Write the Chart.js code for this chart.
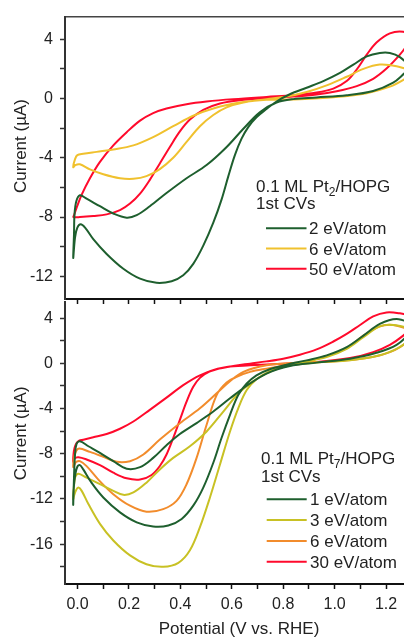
<!DOCTYPE html>
<html>
<head>
<meta charset="utf-8">
<script src="https://cdn.jsdelivr.net/npm/chart.js@4.4.1/dist/chart.umd.min.js"></script>
<style>
  html, body { margin: 0; padding: 0; background: #fff; overflow: hidden; width: 404px; height: 638px; }
  #wrap { position: relative; width: 404px; height: 638px; overflow: hidden; }
  canvas { position: absolute; left: 0; }
  #cvTop { top: 0; z-index: 2; }
  #cvBot { top: 285px; z-index: 1; }
</style>
</head>
<body>
<div id="wrap">
  <canvas id="cvBot" width="413" height="355"></canvas>
  <canvas id="cvTop" width="413" height="330"></canvas>
</div>
<script>
'use strict';

/* ── data: [potential (V vs RHE), current (µA)] ── */

// top panel: 0.1 ML Pt2/HOPG
const pt2_2eV = [[1.30,2.07],[1.254,2.80],[1.215,3.07],[1.176,3.07],[1.125,2.84],[1.073,2.29],[1.021,1.73],[0.956,1.18],[0.891,0.73],[0.826,0.29],[0.774,-0.20],[0.735,-0.71],[0.696,-1.27],[0.664,-1.93],[0.638,-2.71],[0.612,-3.82],[0.586,-5.27],[0.560,-6.82],[0.528,-8.38],[0.489,-9.93],[0.450,-11.16],[0.411,-11.93],[0.366,-12.33],[0.307,-12.44],[0.243,-12.16],[0.178,-11.49],[0.113,-10.49],[0.061,-9.49],[0.029,-8.71],[0.012,-8.49],[-0.001,-8.71],[-0.010,-9.38],[-0.017,-10.76],[-0.014,-9.16],[-0.012,-7.82],[-0.005,-6.93],[0.009,-6.53],[0.035,-6.76],[0.087,-7.27],[0.139,-7.76],[0.191,-8.04],[0.230,-7.87],[0.281,-7.27],[0.346,-6.38],[0.424,-5.38],[0.502,-4.49],[0.580,-3.27],[0.645,-2.04],[0.709,-0.93],[0.774,-0.27],[0.839,-0.04],[0.930,0.07],[1.047,0.22],[1.150,0.51],[1.228,1.07],[1.274,1.73],[1.30,2.07]];
const pt2_6eV = [[1.306,1.84],[1.241,2.18],[1.176,2.29],[1.112,2.00],[1.047,1.47],[0.969,0.89],[0.891,0.44],[0.813,0.13],[0.735,-0.04],[0.632,-0.27],[0.528,-0.67],[0.450,-1.16],[0.372,-1.87],[0.294,-2.60],[0.217,-3.16],[0.139,-3.44],[0.074,-3.60],[0.022,-3.73],[-0.001,-3.82],[-0.010,-4.09],[-0.017,-4.64],[-0.009,-4.49],[0.009,-4.44],[0.048,-4.78],[0.100,-5.11],[0.165,-5.38],[0.217,-5.42],[0.268,-5.24],[0.320,-4.76],[0.372,-4.00],[0.424,-2.93],[0.476,-1.87],[0.528,-1.11],[0.580,-0.60],[0.645,-0.27],[0.735,-0.09],[0.865,-0.04],[0.995,0.09],[1.125,0.36],[1.215,0.80],[1.274,1.33],[1.306,1.73]];
const pt2_50eV = [[1.306,4.18],[1.267,4.51],[1.215,4.40],[1.163,3.78],[1.125,2.96],[1.086,1.96],[1.047,1.18],[0.995,0.67],[0.930,0.40],[0.839,0.22],[0.735,0.11],[0.606,-0.04],[0.502,-0.20],[0.424,-0.38],[0.346,-0.67],[0.294,-0.98],[0.243,-1.49],[0.191,-2.27],[0.139,-3.16],[0.087,-4.27],[0.048,-5.38],[0.016,-6.49],[-0.004,-7.38],[-0.014,-7.89],[-0.016,-8.00],[0.009,-8.00],[0.061,-7.93],[0.113,-7.82],[0.165,-7.53],[0.204,-7.09],[0.243,-6.42],[0.281,-5.49],[0.320,-4.38],[0.359,-3.27],[0.398,-2.22],[0.437,-1.42],[0.489,-0.76],[0.554,-0.33],[0.632,-0.11],[0.735,0.02],[0.839,0.13],[0.930,0.27],[1.008,0.49],[1.086,0.84],[1.150,1.33],[1.202,2.02],[1.254,2.96],[1.286,3.69],[1.306,4.18]];

// bottom panel: 0.1 ML Pt7/HOPG
const pt7_1eV = [[1.306,3.48],[1.241,3.92],[1.176,3.48],[1.112,2.45],[1.047,1.43],[0.969,0.70],[0.891,0.26],[0.813,-0.12],[0.748,-0.53],[0.696,-1.06],[0.658,-1.79],[0.625,-2.81],[0.593,-4.56],[0.560,-6.61],[0.528,-8.80],[0.489,-11.00],[0.450,-12.60],[0.405,-13.77],[0.353,-14.35],[0.294,-14.44],[0.230,-14.07],[0.165,-13.19],[0.100,-11.87],[0.054,-10.56],[0.022,-9.39],[0.009,-9.01],[-0.001,-9.15],[-0.009,-9.83],[-0.016,-11.29],[-0.017,-12.52],[-0.014,-10.12],[-0.010,-8.07],[-0.004,-7.13],[0.009,-6.90],[0.042,-7.34],[0.087,-7.93],[0.139,-8.66],[0.191,-9.33],[0.243,-9.19],[0.294,-8.37],[0.346,-7.25],[0.398,-6.26],[0.463,-5.29],[0.528,-4.27],[0.593,-3.10],[0.658,-1.99],[0.735,-0.91],[0.826,-0.24],[0.930,0.06],[1.060,0.41],[1.163,0.93],[1.241,1.63],[1.293,2.74],[1.306,3.48]];
const pt7_3eV = [[1.306,3.04],[1.228,3.39],[1.176,3.27],[1.112,2.31],[1.047,1.28],[0.969,0.55],[0.891,0.17],[0.813,-0.18],[0.748,-0.70],[0.696,-1.41],[0.658,-2.37],[0.625,-3.98],[0.593,-6.03],[0.554,-8.95],[0.515,-11.87],[0.476,-14.50],[0.437,-16.55],[0.392,-17.66],[0.333,-18.01],[0.268,-17.78],[0.204,-17.00],[0.139,-15.68],[0.087,-14.21],[0.042,-12.46],[0.016,-11.29],[0.003,-11.00],[-0.006,-11.23],[-0.014,-11.73],[-0.017,-12.02],[-0.014,-10.85],[-0.009,-10.06],[0.003,-9.77],[0.035,-10.12],[0.087,-10.70],[0.139,-11.29],[0.178,-11.64],[0.217,-11.43],[0.268,-10.56],[0.320,-9.39],[0.372,-8.37],[0.437,-7.34],[0.502,-6.03],[0.567,-4.27],[0.632,-2.51],[0.709,-1.20],[0.800,-0.32],[0.930,0.06],[1.060,0.26],[1.163,0.64],[1.241,1.28],[1.293,2.16],[1.306,3.04]];
const pt7_6eV = [[1.306,2.89],[1.228,3.39],[1.176,3.27],[1.112,2.45],[1.047,1.34],[0.969,0.64],[0.891,0.17],[0.813,-0.18],[0.735,-0.47],[0.671,-0.76],[0.619,-1.20],[0.580,-1.70],[0.541,-2.81],[0.502,-5.44],[0.463,-8.37],[0.424,-10.70],[0.385,-12.17],[0.333,-12.90],[0.268,-13.13],[0.204,-12.60],[0.139,-11.58],[0.080,-10.27],[0.035,-9.10],[0.009,-8.66],[-0.004,-8.71],[-0.012,-8.95],[-0.017,-9.18],[-0.014,-8.37],[-0.006,-7.78],[0.006,-7.55],[0.048,-7.84],[0.100,-8.27],[0.152,-8.72],[0.204,-8.66],[0.256,-8.07],[0.320,-6.75],[0.398,-5.30],[0.476,-3.98],[0.541,-2.66],[0.593,-1.58],[0.645,-0.76],[0.735,-0.18],[0.865,0.06],[0.995,0.17],[1.125,0.46],[1.215,0.99],[1.280,1.87],[1.306,2.89]];
const pt7_30eV = [[1.306,4.15],[1.254,4.42],[1.202,4.50],[1.150,4.15],[1.099,3.39],[1.047,2.60],[0.995,1.93],[0.930,1.23],[0.865,0.76],[0.800,0.41],[0.735,0.17],[0.671,-0.03],[0.606,-0.24],[0.541,-0.53],[0.476,-1.06],[0.411,-1.93],[0.346,-3.04],[0.281,-4.12],[0.217,-5.15],[0.165,-5.79],[0.113,-6.26],[0.061,-6.55],[0.022,-6.76],[0.006,-6.84],[-0.004,-7.05],[-0.012,-7.49],[-0.016,-8.07],[-0.017,-8.71],[-0.012,-8.42],[0.003,-8.31],[0.035,-8.51],[0.087,-9.01],[0.139,-9.68],[0.191,-10.18],[0.243,-10.29],[0.288,-9.88],[0.320,-9.09],[0.346,-8.07],[0.372,-6.61],[0.398,-5.00],[0.424,-3.39],[0.450,-2.08],[0.476,-1.29],[0.515,-0.70],[0.580,-0.32],[0.671,-0.18],[0.800,-0.03],[0.930,0.11],[1.060,0.46],[1.150,0.99],[1.215,1.64],[1.267,2.45],[1.306,3.33]];

const topLabels = ['2 eV/atom', '6 eV/atom', '50 eV/atom'];
const botLabels = ['1 eV/atom', '3 eV/atom', '6 eV/atom', '30 eV/atom'];

const xTicks    = [0, 0.1, 0.2, 0.3, 0.4, 0.5, 0.6, 0.7, 0.8, 0.9, 1.0, 1.1, 1.2];
const yTicksTop = [-12, -10, -8, -6, -4, -2, 0, 2, 4];
const yTicksBot = [-18, -16, -14, -12, -10, -8, -6, -4, -2, 0, 2, 4];

/* ── styling ── */
const FONT_FAMILY = '"Liberation Sans", Arial, Helvetica, sans-serif';
const C_TEXT   = '#222';
const C_AXIS   = '#333';
const C_GREEN  = '#1e5f2e';
const C_GOLD   = '#f0c12e';
const C_OLIVE  = '#c8c124';
const C_ORANGE = '#f28c2c';
const C_RED    = '#ff0a2c';

const X_MIN = -0.049, X_MAX = 1.305;

const toXY = arr => arr.map(([x, y]) => ({ x, y }));

function series(label, pts, color) {
  return {
    label,
    data: toXY(pts),
    showLine: true,
    borderColor: color,
    borderWidth: 2,
    pointRadius: 0,
    tension: 0.35,
    fill: false,
  };
}

/* legend block drawn inside the plot, like the original annotation */
function cvLegend(box, sub, labels, colors) {
  return {
    id: 'cvLegend',
    afterDraw(chart) {
      const ctx = chart.ctx;
      const big = '17px ' + FONT_FAMILY;
      ctx.save();
      ctx.fillStyle = C_TEXT;
      ctx.textBaseline = 'alphabetic';
      ctx.textAlign = 'left';
      ctx.font = big;
      let x = box.x;
      ctx.fillText('0.1 ML Pt', x, box.y);
      x += ctx.measureText('0.1 ML Pt').width;
      ctx.font = '12px ' + FONT_FAMILY;
      ctx.fillText(sub, x, box.y + 4);
      x += ctx.measureText(sub).width;
      ctx.font = big;
      ctx.fillText('/HOPG', x, box.y);
      ctx.fillText('1st CVs', box.x, box.y + box.gap);
      labels.forEach((lab, i) => {
        const ly = box.itemY + i * box.step;
        ctx.strokeStyle = colors[i];
        ctx.lineWidth = 2;
        ctx.beginPath();
        ctx.moveTo(box.lx0, ly);
        ctx.lineTo(box.lx1, ly);
        ctx.stroke();
        ctx.fillText(lab, box.tx, ly + 6);
      });
      ctx.restore();
    },
  };
}

function yAxis(ticksArr, min, max, spaces) {
  return {
    type: 'linear',
    position: 'left',
    min, max,
    afterBuildTicks: s => { s.ticks = ticksArr.map(v => ({ value: v })); },
    ticks: {
      callback: v => (v % 4 === 0 ? String(v) : ''),
      padding: 7,
      color: C_TEXT,
      font: { family: FONT_FAMILY, size: 16 },
    },
    grid: { drawOnChartArea: false, drawTicks: true, tickLength: 5, tickColor: C_AXIS, tickWidth: 1.5 },
    border: { display: true, color: C_AXIS, width: 2 },
    title: {
      display: true,
      text: spaces + 'Current (µA)',
      color: C_TEXT,
      font: { family: FONT_FAMILY, size: 17 },
      padding: { top: 11, bottom: 0 },
    },
    afterFit: s => { s.width = 65; },
  };
}

function xAxis(showLabels, height) {
  return {
    type: 'linear',
    position: 'bottom',
    min: X_MIN, max: X_MAX,
    afterBuildTicks: s => { s.ticks = xTicks.map(v => ({ value: v })); },
    ticks: {
      display: showLabels,
      autoSkip: false,
      maxRotation: 0,
      callback: v => (Math.round(v * 10) % 2 === 0 ? v.toFixed(1) : ''),
      padding: 6,
      color: C_TEXT,
      font: { family: FONT_FAMILY, size: 16 },
    },
    grid: { drawOnChartArea: false, drawTicks: true, tickLength: 5, tickColor: '#111', tickWidth: 1.5 },
    border: { display: true, color: '#111', width: 2 },
    title: {
      display: showLabels,
      text: 'Potential (V vs. RHE)',
      color: C_TEXT,
      font: { family: FONT_FAMILY, size: 17 },
      padding: 0,
    },
    afterFit: s => { s.height = height; },
  };
}

const baseOpts = {
  responsive: false,
  animation: false,
  events: [],
  plugins: { legend: { display: false }, tooltip: { enabled: false } },
};

/* ── top panel ── */
const topColors = [C_GREEN, C_GOLD, C_RED];
new Chart(document.getElementById('cvTop').getContext('2d'), {
  type: 'scatter',
  data: {
    datasets: [
      series(topLabels[0], pt2_2eV, topColors[0]),
      series(topLabels[1], pt2_6eV, topColors[1]),
      series(topLabels[2], pt2_50eV, topColors[2]),
    ],
  },
  options: {
    ...baseOpts,
    layout: { padding: { top: 13, left: 0, right: 0, bottom: 0 } },
    scales: {
      x: xAxis(false, 31),
      xTop: {
        type: 'linear', position: 'top', min: X_MIN, max: X_MAX,
        ticks: { display: false },
        grid: { display: false, drawTicks: false },
        border: { display: true, color: '#444', width: 1.5 },
        afterFit: s => { s.height = 0; },
      },
      y: yAxis(yTicksTop, -13.53, 5.53, '     '),
    },
  },
  plugins: [cvLegend(
    { x: 256, y: 191.7, gap: 17.6, itemY: 228.3, step: 20.2, lx0: 266, lx1: 306.5, tx: 309 },
    '2', topLabels, topColors)],
});

/* ── bottom panel ── */
const botColors = [C_GREEN, C_OLIVE, C_ORANGE, C_RED];
new Chart(document.getElementById('cvBot').getContext('2d'), {
  type: 'scatter',
  data: {
    datasets: [
      series(botLabels[0], pt7_1eV, botColors[0]),
      series(botLabels[1], pt7_3eV, botColors[1]),
      series(botLabels[2], pt7_6eV, botColors[2]),
      series(botLabels[3], pt7_30eV, botColors[3]),
    ],
  },
  options: {
    ...baseOpts,
    layout: { padding: { top: 14, left: 0, right: 0, bottom: 0 } },
    scales: {
      x: xAxis(true, 56),
      y: yAxis(yTicksBot, -19.53, 5.46, '    '),
    },
  },
  plugins: [cvLegend(
    { x: 261, y: 179.3, gap: 18, itemY: 214.3, step: 20.8, lx0: 266.7, lx1: 306.7, tx: 310 },
    '7', botLabels, botColors)],
});
</script>
</body>
</html>
